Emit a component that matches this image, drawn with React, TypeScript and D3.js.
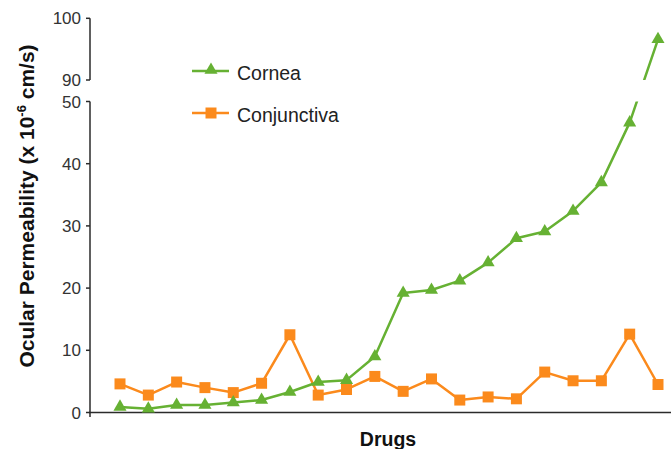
import React from "react";
import * as d3 from "d3";

// Permeability per drug (x 10^-6 cm/s), drugs ordered by corneal permeability
const drugs: number[] = d3.range(1, 21);
const cornea: number[] = [0.9, 0.6, 1.2, 1.2, 1.6, 2.0, 3.3, 4.9, 5.2, 9.0, 19.2, 19.7, 21.2, 24.1, 28.0, 29.1, 32.4, 37.0, 46.6, 96.6];
const conjunctiva: number[] = [4.6, 2.8, 4.9, 4.0, 3.2, 4.7, 12.5, 2.8, 3.7, 5.8, 3.4, 5.4, 2.0, 2.5, 2.2, 6.5, 5.1, 5.1, 12.6, 4.5];
const lowerTicks: number[] = [0, 10, 20, 30, 40, 50];
const upperTicks: number[] = [90, 100];

const W = 671;
const H = 449;
const GREEN = "#66b133";
const ORANGE = "#fb8a1c";
const AXIS = "#2b2b2b";
const FONT = "'Liberation Sans', Arial, Helvetica, sans-serif";

// Broken axis: 0–50 in the lower panel, 90–100 in the upper panel
const y = d3.scaleLinear().domain([0, 50, 90, 100]).range([412.5, 101.5, 80, 18.3]);
const x = d3.scalePoint<number>().domain(drugs).range([120, 658]);
const axisX = 90;

const line = d3
  .line<number>()
  .x((_, i) => x(drugs[i]) as number)
  .y((d) => y(d));

const tri = d3.symbol().type(d3.symbolTriangle).size(74)();
const sq = d3.symbol().type(d3.symbolSquare).size(121)();

export default function App() {
  return (
    <svg
      width={W}
      height={H}
      style={{ position: "absolute", left: 0, top: 0, background: "#fff" }}
      fontFamily={FONT}
    >
      <defs>
        <clipPath id="lowerPanel">
          <rect x={0} y={y(50)} width={W} height={H - y(50)} />
        </clipPath>
        <clipPath id="upperPanel">
          <rect x={0} y={0} width={W} height={y(90)} />
        </clipPath>
      </defs>

      {/* y axis, lower segment */}
      <line x1={axisX} x2={axisX} y1={y(50)} y2={y(0) + 4.5} stroke={AXIS} strokeWidth={1.5} />
      {lowerTicks.map((t) => (
        <g key={t}>
          <line x1={axisX - 4} x2={axisX} y1={y(t)} y2={y(t)} stroke={AXIS} strokeWidth={1.5} />
          <text x={81} y={y(t)} dy="0.36em" textAnchor="end" fontSize={17} fill="#333">
            {t}
          </text>
        </g>
      ))}

      {/* y axis, upper segment */}
      <line x1={axisX} x2={axisX} y1={y(100)} y2={y(90)} stroke={AXIS} strokeWidth={1.5} />
      {upperTicks.map((t) => (
        <g key={t}>
          <line x1={axisX - 4} x2={axisX} y1={y(t)} y2={y(t)} stroke={AXIS} strokeWidth={1.5} />
          <text x={81} y={y(t)} dy="0.36em" textAnchor="end" fontSize={17} fill="#333">
            {t}
          </text>
        </g>
      ))}

      {/* x axis */}
      <line x1={axisX - 1} x2={W} y1={y(0)} y2={y(0)} stroke={AXIS} strokeWidth={1.5} />

      {/* series lines, drawn in both panels */}
      {["lowerPanel", "upperPanel"].map((cp) => (
        <g key={cp} clipPath={`url(#${cp})`} fill="none" strokeWidth={2.5} strokeLinejoin="round">
          <path d={line(conjunctiva) ?? ""} stroke={ORANGE} />
          <path d={line(cornea) ?? ""} stroke={GREEN} />
        </g>
      ))}

      {/* markers */}
      {conjunctiva.map((v, i) => (
        <path key={`c${i}`} d={sq ?? ""} transform={`translate(${x(drugs[i])},${y(v)})`} fill={ORANGE} />
      ))}
      {cornea.map((v, i) => (
        <path key={`k${i}`} d={tri ?? ""} transform={`translate(${x(drugs[i])},${y(v)})`} fill={GREEN} />
      ))}

      {/* legend */}
      <g>
        <line x1={192} x2={229} y1={71} y2={71} stroke={GREEN} strokeWidth={2.5} />
        <path d={tri ?? ""} transform="translate(211,70)" fill={GREEN} />
        <text x={237} y={80} fontSize={19.5} fill="#222">Cornea</text>
        <line x1={192} x2={229} y1={113} y2={113} stroke={ORANGE} strokeWidth={2.5} />
        <path d={sq ?? ""} transform="translate(211,113)" fill={ORANGE} />
        <text x={237} y={122} fontSize={19.5} fill="#222">Conjunctiva</text>
      </g>

      {/* axis titles */}
      <text x={388} y={446} textAnchor="middle" fontSize={19.5} fontWeight="bold" fill="#111">
        Drugs
      </text>
      <text
        transform="translate(34,206) rotate(-90)"
        textAnchor="middle"
        fontSize={21}
        fontWeight="bold"
        fill="#111"
      >
        Ocular Permeability (x 10
        <tspan dy={-8} fontSize={13}>-6</tspan>
        <tspan dy={8}> cm/s)</tspan>
      </text>
    </svg>
  );
}
